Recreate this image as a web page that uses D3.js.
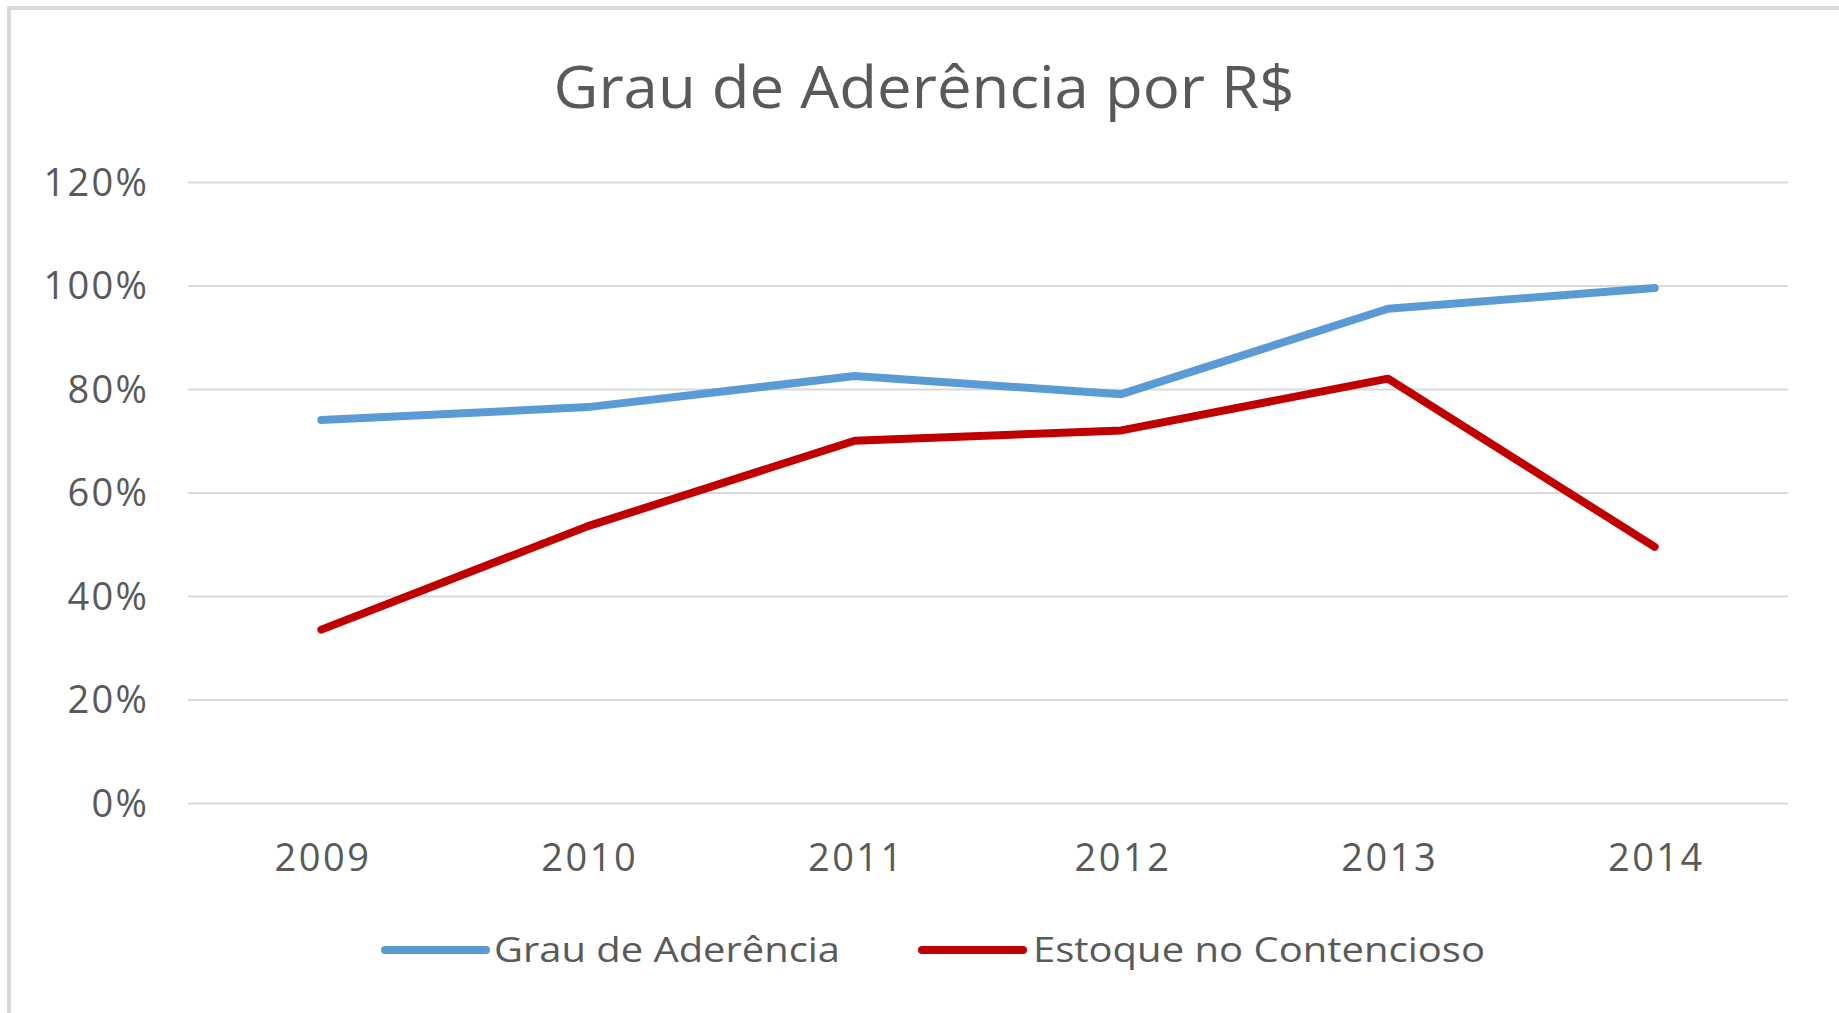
<!DOCTYPE html>
<html>
<head>
<meta charset="utf-8">
<script src="https://cdn.jsdelivr.net/npm/d3@7"></script>
<style>
    html, body { margin: 0; padding: 0; background: #fff; }
    svg { display: block; }
    text { font-family: "Open Sans", "Noto Sans", sans-serif; fill: #595959; }
</style>
</head>
<body>
<div id="chart"></div>
<script>
// values
const years = ['2009', '2010', '2011', '2012', '2013', '2014'];
const grauAderencia = [0.74, 0.765, 0.825, 0.79, 0.955, 0.995];
const estoqueContencioso = [0.335, 0.535, 0.70, 0.72, 0.82, 0.495];
const yTicks = [0, 0.2, 0.4, 0.6, 0.8, 1.0, 1.2];

const series = [
    { name: 'Grau de Aderência', values: grauAderencia, color: '#5b9bd5' },
    { name: 'Estoque no Contencioso', values: estoqueContencioso, color: '#c00000' }
];

const width = 1839;
const height = 1013;
const plotLeft = 188;
const plotRight = 1788;

const svg = d3.select('#chart')
    .append('svg')
    .attr('width', width)
    .attr('height', height);

// chart frame (only left and top edges show in the picture)
svg.append('rect')
    .attr('x', 9)
    .attr('y', 8)
    .attr('width', width + 20)
    .attr('height', height + 20)
    .attr('fill', 'none')
    .attr('stroke', '#d9d9d9')
    .attr('stroke-width', 4);

const x = d3.scalePoint()
    .domain(years)
    .range([plotLeft, plotRight])
    .padding(0.5);

const y = d3.scaleLinear()
    .domain([0, 1.2])
    .range([803, 182]);

// title
svg.append('text')
    .attr('x', 924)
    .attr('y', 108)
    .attr('text-anchor', 'middle')
    .attr('font-size', 58)
    .attr('textLength', 741)
    .attr('lengthAdjust', 'spacingAndGlyphs')
    .text('Grau de Aderência por R$');

// y axis + gridlines
const yAxis = svg.append('g')
    .attr('transform', `translate(${plotLeft},0)`)
    .call(d3.axisLeft(y)
        .tickValues(yTicks)
        .tickFormat(d3.format('.0%'))
        .tickSize(-(plotRight - plotLeft))
        .tickPadding(39));

yAxis.select('.domain').remove();
yAxis.selectAll('.tick line')
    .attr('stroke', '#d9d9d9')
    .attr('stroke-width', 2);
yAxis.selectAll('.tick text')
    .attr('font-size', 38)
    .attr('letter-spacing', 2.2)
    .attr('dy', '0.35em')
    .attr('fill', '#595959');

// x axis labels
const xAxis = svg.append('g')
    .attr('transform', `translate(0,${y(0)})`)
    .call(d3.axisBottom(x).tickSize(0).tickPadding(41));

xAxis.select('.domain').remove();
xAxis.selectAll('.tick text')
    .attr('font-size', 38)
    .attr('letter-spacing', 2.5)
    .attr('dx', 1.2)
    .attr('fill', '#595959');

// lines
const line = d3.line()
    .x((d, i) => x(years[i]))
    .y(d => y(d));

svg.selectAll('.series')
    .data(series)
    .join('path')
    .attr('class', 'series')
    .attr('d', d => line(d.values))
    .attr('fill', 'none')
    .attr('stroke', d => d.color)
    .attr('stroke-width', 8)
    .attr('stroke-linejoin', 'round')
    .attr('stroke-linecap', 'round');

// legend
const legendItems = [
    { lineX: 385, textX: 494, textLen: 346 },
    { lineX: 922, textX: 1033, textLen: 452 }
];

const legend = svg.selectAll('.legend')
    .data(series)
    .join('g')
    .attr('class', 'legend');

legend.append('line')
    .attr('x1', (d, i) => legendItems[i].lineX)
    .attr('x2', (d, i) => legendItems[i].lineX + 101)
    .attr('y1', 950)
    .attr('y2', 950)
    .attr('stroke', d => d.color)
    .attr('stroke-width', 8)
    .attr('stroke-linecap', 'round');

legend.append('text')
    .attr('x', (d, i) => legendItems[i].textX)
    .attr('y', 962)
    .attr('font-size', 35)
    .attr('textLength', (d, i) => legendItems[i].textLen)
    .attr('lengthAdjust', 'spacingAndGlyphs')
    .text(d => d.name);
</script>
</body>
</html>
